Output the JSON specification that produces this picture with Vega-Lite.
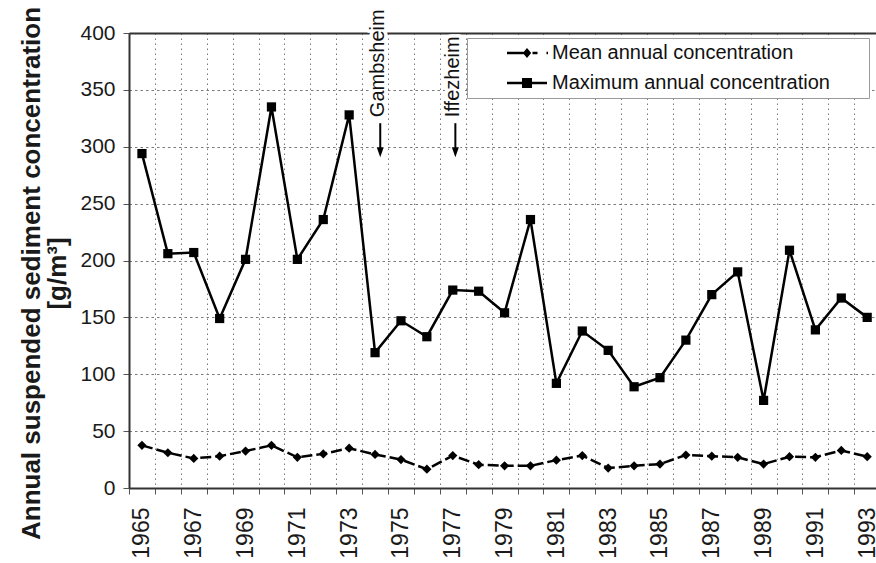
{
  "$schema": "https://vega.github.io/schema/vega-lite/v6.json",
  "width": 747,
  "height": 455,
  "autosize": {"type": "none"},
  "padding": {"left": 129, "top": 33, "right": 0, "bottom": 75},
  "background": "white",
  "config": {
    "font": "Liberation Sans",
    "view": {"stroke": null},
    "axis": {"labelFont": "Liberation Sans", "titleFont": "Liberation Sans", "labelColor": "#1a1a1a", "titleColor": "#1a1a1a"},
    "legend": {"labelFont": "Liberation Sans"}
  },
  "datasets": {
    "series": [
      {"year": 1965, "series": "Maximum annual concentration", "value": 294},
      {"year": 1966, "series": "Maximum annual concentration", "value": 206},
      {"year": 1967, "series": "Maximum annual concentration", "value": 207},
      {"year": 1968, "series": "Maximum annual concentration", "value": 149},
      {"year": 1969, "series": "Maximum annual concentration", "value": 201},
      {"year": 1970, "series": "Maximum annual concentration", "value": 335},
      {"year": 1971, "series": "Maximum annual concentration", "value": 201},
      {"year": 1972, "series": "Maximum annual concentration", "value": 236},
      {"year": 1973, "series": "Maximum annual concentration", "value": 328},
      {"year": 1974, "series": "Maximum annual concentration", "value": 119},
      {"year": 1975, "series": "Maximum annual concentration", "value": 147},
      {"year": 1976, "series": "Maximum annual concentration", "value": 133},
      {"year": 1977, "series": "Maximum annual concentration", "value": 174},
      {"year": 1978, "series": "Maximum annual concentration", "value": 173},
      {"year": 1979, "series": "Maximum annual concentration", "value": 154},
      {"year": 1980, "series": "Maximum annual concentration", "value": 236},
      {"year": 1981, "series": "Maximum annual concentration", "value": 92},
      {"year": 1982, "series": "Maximum annual concentration", "value": 138},
      {"year": 1983, "series": "Maximum annual concentration", "value": 121},
      {"year": 1984, "series": "Maximum annual concentration", "value": 89},
      {"year": 1985, "series": "Maximum annual concentration", "value": 97},
      {"year": 1986, "series": "Maximum annual concentration", "value": 130},
      {"year": 1987, "series": "Maximum annual concentration", "value": 170},
      {"year": 1988, "series": "Maximum annual concentration", "value": 190},
      {"year": 1989, "series": "Maximum annual concentration", "value": 77},
      {"year": 1990, "series": "Maximum annual concentration", "value": 209},
      {"year": 1991, "series": "Maximum annual concentration", "value": 139},
      {"year": 1992, "series": "Maximum annual concentration", "value": 167},
      {"year": 1993, "series": "Maximum annual concentration", "value": 150},
      {"year": 1965, "series": "Mean annual concentration", "value": 37.5},
      {"year": 1966, "series": "Mean annual concentration", "value": 31},
      {"year": 1967, "series": "Mean annual concentration", "value": 26},
      {"year": 1968, "series": "Mean annual concentration", "value": 28},
      {"year": 1969, "series": "Mean annual concentration", "value": 32.5},
      {"year": 1970, "series": "Mean annual concentration", "value": 37.5},
      {"year": 1971, "series": "Mean annual concentration", "value": 27},
      {"year": 1972, "series": "Mean annual concentration", "value": 30},
      {"year": 1973, "series": "Mean annual concentration", "value": 35},
      {"year": 1974, "series": "Mean annual concentration", "value": 29.5},
      {"year": 1975, "series": "Mean annual concentration", "value": 25},
      {"year": 1976, "series": "Mean annual concentration", "value": 16.5},
      {"year": 1977, "series": "Mean annual concentration", "value": 28.5},
      {"year": 1978, "series": "Mean annual concentration", "value": 20.5},
      {"year": 1979, "series": "Mean annual concentration", "value": 19.5},
      {"year": 1980, "series": "Mean annual concentration", "value": 19.5},
      {"year": 1981, "series": "Mean annual concentration", "value": 24.5},
      {"year": 1982, "series": "Mean annual concentration", "value": 28.5},
      {"year": 1983, "series": "Mean annual concentration", "value": 17.5},
      {"year": 1984, "series": "Mean annual concentration", "value": 19.5},
      {"year": 1985, "series": "Mean annual concentration", "value": 21},
      {"year": 1986, "series": "Mean annual concentration", "value": 29},
      {"year": 1987, "series": "Mean annual concentration", "value": 28},
      {"year": 1988, "series": "Mean annual concentration", "value": 27},
      {"year": 1989, "series": "Mean annual concentration", "value": 21},
      {"year": 1990, "series": "Mean annual concentration", "value": 27.5},
      {"year": 1991, "series": "Mean annual concentration", "value": 27},
      {"year": 1992, "series": "Mean annual concentration", "value": 33},
      {"year": 1993, "series": "Mean annual concentration", "value": 27.5}
    ],
    "dams": [
      {"dam": "Gambsheim", "year": 1974.2},
      {"dam": "Iffezheim", "year": 1977.1}
    ]
  },
  "resolve": {"axis": {"x": "independent"}},
  "layer": [
    {
      "data": {"name": "series"},
      "transform": [{"filter": "datum.series === 'Maximum annual concentration'"}],
      "mark": {"type": "line", "strokeWidth": 2.5, "color": "black"},
      "encoding": {
        "x": {
          "field": "year", "type": "quantitative",
          "scale": {"domain": [1964.5, 1993.34], "nice": false, "zero": false},
          "axis": {
            "orient": "bottom", "title": null, "labels": false,
            "values": [1964.5, 1965.5, 1966.5, 1967.5, 1968.5, 1969.5, 1970.5, 1971.5, 1972.5, 1973.5, 1974.5, 1975.5, 1976.5, 1977.5, 1978.5, 1979.5, 1980.5, 1981.5, 1982.5, 1983.5, 1984.5, 1985.5, 1986.5, 1987.5, 1988.5, 1989.5, 1990.5, 1991.5, 1992.5, 1993.5],
            "domain": true, "domainColor": "#333333", "domainWidth": 2,
            "ticks": true, "tickSize": 6, "tickColor": "#555555", "tickWidth": 1,
            "grid": true, "gridColor": "#7a7a7a", "gridDash": [1.5, 3.5], "gridWidth": 1
          }
        },
        "y": {
          "field": "value", "type": "quantitative",
          "scale": {"domain": [0, 400], "nice": false},
          "axis": {
            "values": [0, 50, 100, 150, 200, 250, 300, 350, 400],
            "domainColor": "#333333", "domainWidth": 2,
            "tickColor": "#555555", "tickSize": 6,
            "labelFontSize": 21, "labelPadding": 8, "labelFlush": false,
            "grid": true, "gridColor": "#7a7a7a", "gridDash": [2.5, 3], "gridWidth": 1,
            "title": ["Annual suspended sediment concentration", "[g/m³]"],
            "titleFontSize": 26, "titleFontWeight": "bold", "titleAngle": 270,
            "titleX": -98, "titleY": 240, "titleAlign": "center", "titleBaseline": "middle",
            "titleLineHeight": 26
          }
        }
      }
    },
    {
      "data": {"name": "series"},
      "transform": [{"filter": "datum.series === 'Mean annual concentration'"}],
      "mark": {"type": "line", "strokeWidth": 2.5, "color": "black", "strokeDash": [11, 4]},
      "encoding": {
        "x": {"field": "year", "type": "quantitative", "axis": null},
        "y": {"field": "value", "type": "quantitative"}
      }
    },
    {
      "data": {"name": "series"},
      "transform": [{"filter": "datum.series === 'Maximum annual concentration'"}],
      "mark": {"type": "point", "shape": "square", "filled": true, "opacity": 1, "color": "black", "size": 85},
      "encoding": {
        "x": {
          "field": "year", "type": "quantitative",
          "axis": {
            "orient": "bottom", "title": null, "format": "d",
            "values": [1965, 1967, 1969, 1971, 1973, 1975, 1977, 1979, 1981, 1983, 1985, 1987, 1989, 1991, 1993],
            "domain": false, "ticks": false, "tickSize": 0, "grid": false,
            "labelAngle": 270, "labelAlign": "right", "labelBaseline": "middle",
            "labelPadding": 19, "labelFontSize": 23, "labelFlush": false, "labelOverlap": false
          }
        },
        "y": {"field": "value", "type": "quantitative"}
      }
    },
    {
      "data": {"name": "series"},
      "transform": [{"filter": "datum.series === 'Mean annual concentration'"}],
      "mark": {"type": "point", "shape": "diamond", "filled": true, "opacity": 1, "color": "black", "size": 85},
      "encoding": {
        "x": {"field": "year", "type": "quantitative", "axis": null},
        "y": {"field": "value", "type": "quantitative"}
      }
    },
    {
      "description": "Legend entries only: line-and-marker keys for both series",
      "data": {"name": "series"},
      "transform": [{"filter": "false"}],
      "mark": {"type": "point", "fill": "black", "stroke": "black", "strokeWidth": 0, "opacity": 1, "filled": true, "size": 400},
      "encoding": {
        "x": {"field": "year", "type": "quantitative", "axis": null},
        "y": {"field": "value", "type": "quantitative"},
        "shape": {
          "field": "series", "type": "nominal",
          "scale": {
            "domain": ["Mean annual concentration", "Maximum annual concentration"],
            "range": [
              "M-2,-0.12H-0.35V0.12H-2ZM0,-0.5L0.42,0L0,0.5L-0.42,0ZM0.55,-0.12H1.05V0.12H0.55ZM1.95,-0.12H2.1V0.12H1.95Z",
              "M-2,-0.12H2V0.12H-2ZM-0.5,-0.5H0.5V0.5H-0.5Z"
            ]
          },
          "legend": {
            "title": null, "orient": "none", "legendX": 338, "legendY": 5,
            "padding": 5, "strokeColor": "#9a9a9a", "fillColor": "white",
            "symbolSize": 400, "symbolOffset": 45, "labelOffset": 15,
            "labelFontSize": 20, "labelColor": "#111111", "labelLimit": 500,
            "labelExpr": "datum.label + '\u00a0\u00a0\u00a0\u00a0\u00a0\u00a0\u200b'",
            "rowPadding": 10,
            "symbolStrokeWidth": 0, "symbolFillColor": "black", "symbolStrokeColor": "black", "symbolOpacity": 1
          }
        }
      }
    },
    {
      "data": {"name": "dams"},
      "mark": {"type": "rule", "color": "white", "strokeWidth": 10},
      "encoding": {
        "x": {
          "field": "year", "type": "quantitative",
          "axis": {"orient": "top", "title": null, "labels": false, "ticks": false, "grid": false, "domain": true, "domainColor": "#333333", "domainWidth": 2}
        },
        "y": {"datum": 322},
        "y2": {"datum": 292}
      }
    },
    {
      "data": {"name": "dams"},
      "mark": {"type": "rule", "color": "black", "strokeWidth": 2},
      "encoding": {
        "x": {"field": "year", "type": "quantitative", "axis": null},
        "y": {"datum": 320.7},
        "y2": {"datum": 298}
      }
    },
    {
      "data": {"name": "dams"},
      "mark": {"type": "point", "shape": "M-0.7,-1H0.7L0,1Z", "size": 100, "filled": true, "opacity": 1, "color": "black"},
      "encoding": {
        "x": {"field": "year", "type": "quantitative", "axis": null},
        "y": {"datum": 295.2}
      }
    },
    {
      "data": {"name": "dams"},
      "mark": {"type": "text", "angle": 270, "align": "left", "baseline": "middle", "dy": -2.5, "fontSize": 20, "color": "white", "stroke": "white", "strokeWidth": 7, "strokeJoin": "round"},
      "encoding": {
        "x": {"field": "year", "type": "quantitative", "axis": null},
        "y": {"datum": 326},
        "text": {"field": "dam"}
      }
    },
    {
      "data": {"name": "dams"},
      "mark": {"type": "text", "angle": 270, "align": "left", "baseline": "middle", "dy": -2.5, "fontSize": 20, "color": "#111111"},
      "encoding": {
        "x": {"field": "year", "type": "quantitative", "axis": null},
        "y": {"datum": 326},
        "text": {"field": "dam"}
      }
    }
  ]
}
